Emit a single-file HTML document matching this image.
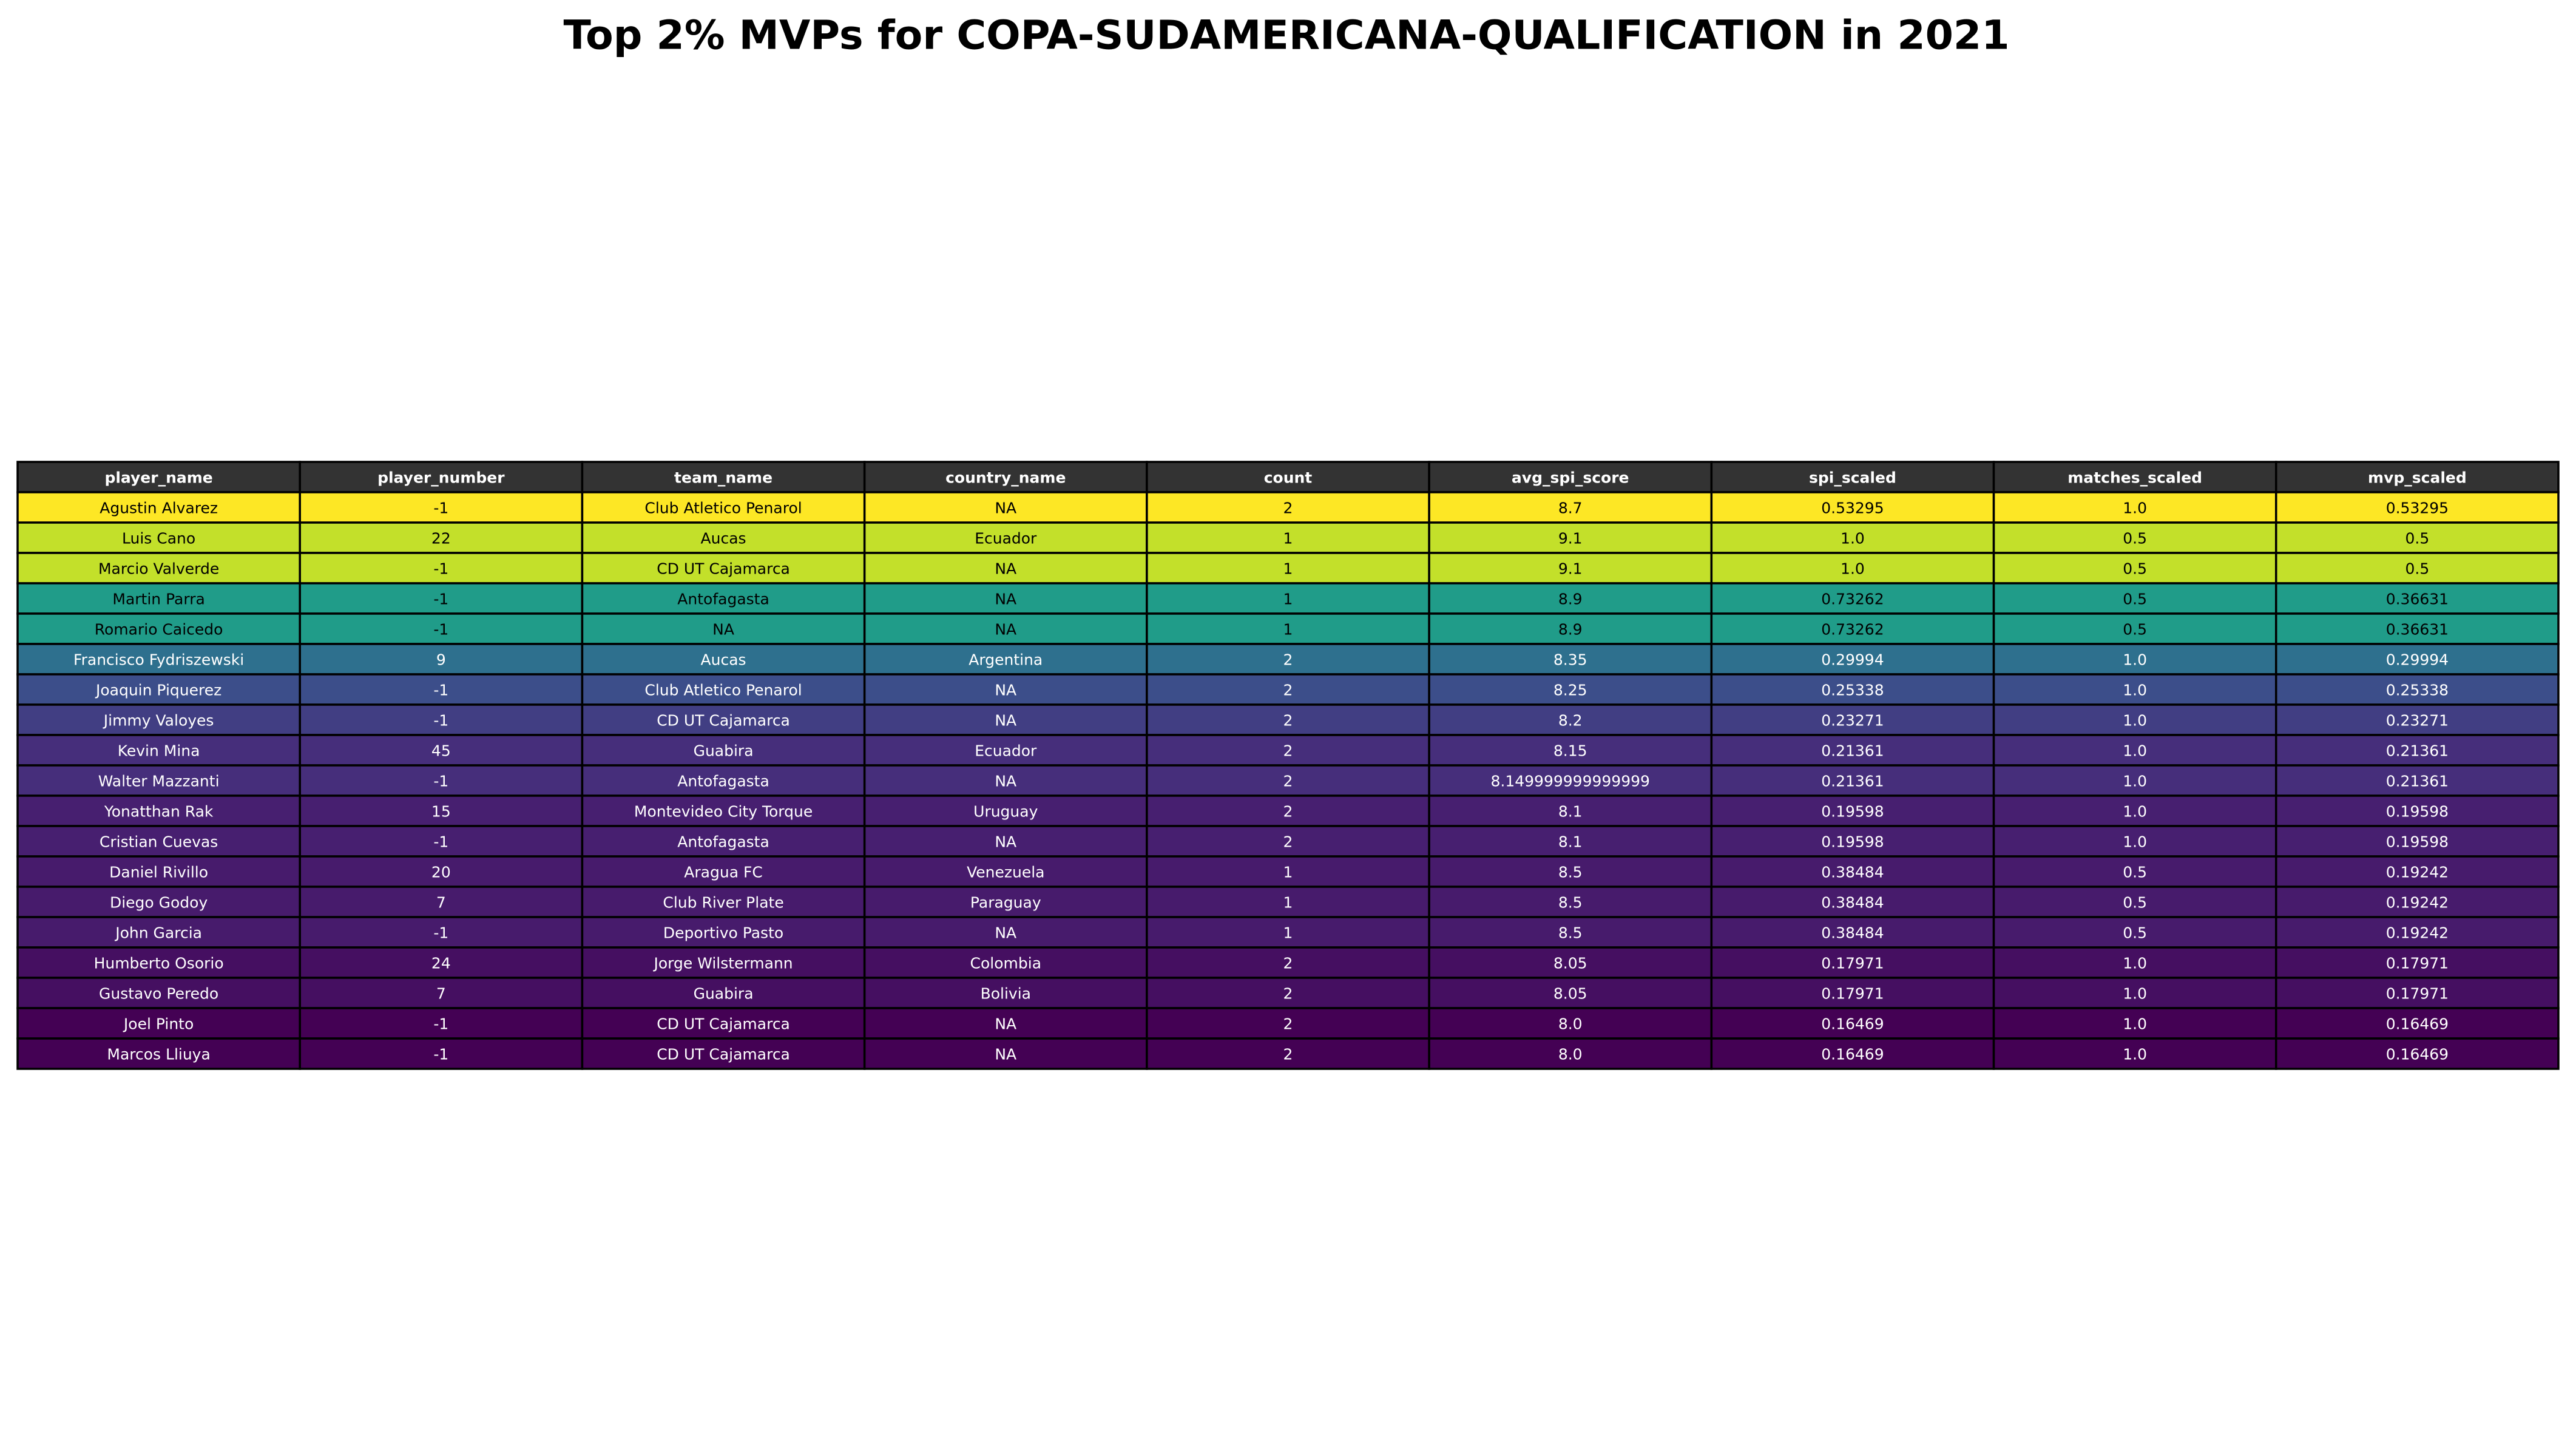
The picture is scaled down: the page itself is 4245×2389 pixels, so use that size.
<!DOCTYPE html>
<html><head><meta charset="utf-8">
<style>
html,body{margin:0;padding:0;background:#fff;}
svg{display:block;}
text{font-family:"DejaVu Sans","Liberation Sans",sans-serif;}
</style></head>
<body>
<svg id="chart" width="4245" height="2389" viewBox="0 0 4245 2389" xmlns="http://www.w3.org/2000/svg">
<rect width="4245" height="2389" fill="#fff"/>
<text x="2120" y="58" text-anchor="middle" dominant-baseline="central" font-size="66" font-weight="bold" fill="#000" textLength="2383" lengthAdjust="spacingAndGlyphs">Top 2% MVPs for COPA-SUDAMERICANA-QUALIFICATION in 2021</text>
<g id="tbl"></g>
</svg>
<script>
const columns = ["player_name","player_number","team_name","country_name","count","avg_spi_score","spi_scaled","matches_scaled","mvp_scaled"];
const playerNames = ["Agustin Alvarez","Luis Cano","Marcio Valverde","Martin Parra","Romario Caicedo","Francisco Fydriszewski","Joaquin Piquerez","Jimmy Valoyes","Kevin Mina","Walter Mazzanti","Yonatthan Rak","Cristian Cuevas","Daniel Rivillo","Diego Godoy","John Garcia","Humberto Osorio","Gustavo Peredo","Joel Pinto","Marcos Lliuya"];
const playerNumbers = ["-1","22","-1","-1","-1","9","-1","-1","45","-1","15","-1","20","7","-1","24","7","-1","-1"];
const teamNames = ["Club Atletico Penarol","Aucas","CD UT Cajamarca","Antofagasta","NA","Aucas","Club Atletico Penarol","CD UT Cajamarca","Guabira","Antofagasta","Montevideo City Torque","Antofagasta","Aragua FC","Club River Plate","Deportivo Pasto","Jorge Wilstermann","Guabira","CD UT Cajamarca","CD UT Cajamarca"];
const countryNames = ["NA","Ecuador","NA","NA","NA","Argentina","NA","NA","Ecuador","NA","Uruguay","NA","Venezuela","Paraguay","NA","Colombia","Bolivia","NA","NA"];
const counts = ["2","1","1","1","1","2","2","2","2","2","2","2","1","1","1","2","2","2","2"];
const avgSpi = ["8.7","9.1","9.1","8.9","8.9","8.35","8.25","8.2","8.15","8.149999999999999","8.1","8.1","8.5","8.5","8.5","8.05","8.05","8.0","8.0"];
const spiScaled = ["0.53295","1.0","1.0","0.73262","0.73262","0.29994","0.25338","0.23271","0.21361","0.21361","0.19598","0.19598","0.38484","0.38484","0.38484","0.17971","0.17971","0.16469","0.16469"];
const matchesScaled = ["1.0","0.5","0.5","0.5","0.5","1.0","1.0","1.0","1.0","1.0","1.0","1.0","0.5","0.5","0.5","1.0","1.0","1.0","1.0"];
const mvpScaled = ["0.53295","0.5","0.5","0.36631","0.36631","0.29994","0.25338","0.23271","0.21361","0.21361","0.19598","0.19598","0.19242","0.19242","0.19242","0.17971","0.17971","0.16469","0.16469"];

const viridis = ["#440154","#482878","#3e4989","#31688e","#26828e","#1f9e89","#35b779","#6ece58","#b5de2b","#fde725"];
function hex(c){return [1,3,5].map(i=>parseInt(c.substr(i,2),16));}
function cmap(t){
  t=Math.max(0,Math.min(1,t));
  const p=t*(viridis.length-1), i=Math.min(Math.floor(p),viridis.length-2), f=p-i;
  const a=hex(viridis[i]), b=hex(viridis[i+1]);
  return "rgb("+a.map((v,k)=>Math.round(v+(b[k]-v)*f)).join(",")+")";
}
const NS="http://www.w3.org/2000/svg";
const g=document.getElementById("tbl");
const X0=29, X1=4216, Y0=761, RH=50;
const CW=(X1-X0)/columns.length;
function colX(c){return X0+c*CW;}
function rowY(r){return Y0+r*RH;}
const vals=mvpScaled.map(Number);
const vmin=Math.min(...vals), vmax=Math.max(...vals);
const data=[playerNames,playerNumbers,teamNames,countryNames,counts,avgSpi,spiScaled,matchesScaled,mvpScaled];

function cell(r,c,fill,txt,color,bold,size){
  const rect=document.createElementNS(NS,"rect");
  rect.setAttribute("x",colX(c));rect.setAttribute("y",rowY(r));
  rect.setAttribute("width",CW);rect.setAttribute("height",RH);
  rect.setAttribute("fill",fill);rect.setAttribute("stroke","#000");rect.setAttribute("stroke-width","3.5");
  
  
  g.appendChild(rect);
  const t=document.createElementNS(NS,"text");
  t.setAttribute("x",colX(c)+CW/2);t.setAttribute("y",rowY(r)+RH/2+1);
  t.setAttribute("text-anchor","middle");t.setAttribute("dominant-baseline","central");
  t.setAttribute("font-size",size);t.setAttribute("fill",color);
  if(bold)t.setAttribute("font-weight","bold");
  t.textContent=txt;
  
  
  g.appendChild(t);
}
columns.forEach((h,c)=>cell(0,c,"#333333",h,"#fff",true,25));
for(let r=0;r<playerNames.length;r++){
  const t=(vals[r]-vmin)/(vmax-vmin);
  const fill=cmap(t);
  const color=t<0.45?"#fff":"#000";
  for(let c=0;c<columns.length;c++) cell(r+1,c,fill,data[c][r],color,false,25);
}
</script>
</body></html>
